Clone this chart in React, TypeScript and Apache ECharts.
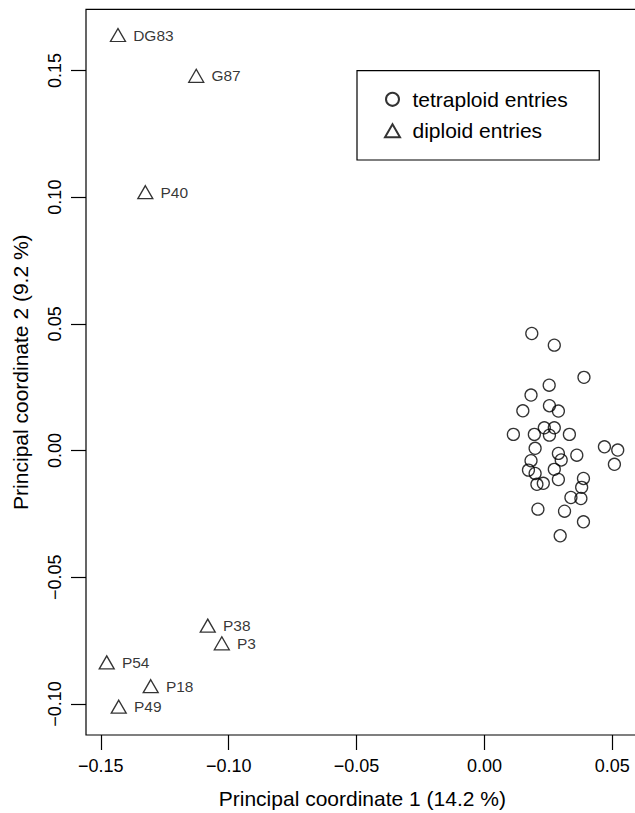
import React, { useEffect, useRef } from "react";
import * as echarts from "echarts";

// Diploid entries (triangles)
const diploidNames = ["DG83", "G87", "P40", "P38", "P3", "P54", "P18", "P49"];
const diploidX = [-0.1433, -0.1127, -0.1326, -0.1082, -0.1027, -0.1477, -0.1305, -0.143];
const diploidY = [0.1631, 0.147, 0.1011, -0.0699, -0.0769, -0.0844, -0.0938, -0.1019];

// Tetraploid entries (circles)
const tetraX = [
  0.0185, 0.0273, 0.0389, 0.0253, 0.0182, 0.015, 0.0254, 0.0289, 0.0113, 0.0195,
  0.0234, 0.0273, 0.0254, 0.0332, 0.0198, 0.0289, 0.0361, 0.0469, 0.0521, 0.0182,
  0.03, 0.0508, 0.0172, 0.0198, 0.0273, 0.0387, 0.0205, 0.023, 0.0289, 0.038,
  0.0338, 0.0377, 0.0209, 0.0313, 0.0387, 0.0296,
];
const tetraY = [
  0.0462, 0.0416, 0.0289, 0.0258, 0.0219, 0.0157, 0.0177, 0.0156, 0.0064, 0.0064,
  0.009, 0.009, 0.0061, 0.0064, 0.0009, -0.0011, -0.0018, 0.0015, 0.0002, -0.004,
  -0.0037, -0.0054, -0.0077, -0.009, -0.0074, -0.011, -0.0133, -0.0129, -0.0114, -0.0145,
  -0.0185, -0.0189, -0.0231, -0.0239, -0.0281, -0.0336,
];

const xTicks = [-0.15, -0.1, -0.05, 0, 0.05];
const yTicks = [-0.1, -0.05, 0, 0.05, 0.1, 0.15];

const xTitle = "Principal coordinate 1 (14.2 %)";
const yTitle = "Principal coordinate 2 (9.2 %)";
const legendNames = ["tetraploid entries", "diploid entries"];

const FONT = "'Liberation Sans', Arial, Helvetica, sans-serif";

const fmt = (v: number) => {
  const s = Number(v).toFixed(2);
  return s.replace("-", "\u2212");
};

export default function App() {
  const ref = useRef<HTMLDivElement>(null);
  useEffect(() => {
    if (!ref.current) return;
    const chart = echarts.init(ref.current, undefined, { renderer: "svg" });
    const tetraData = tetraX.map((x, i) => [x, tetraY[i]]);
    const diploidData = diploidNames.map((n, i) => ({ name: n, value: [diploidX[i], diploidY[i]] }));
    chart.setOption({
      animation: false,
      backgroundColor: "#fff",
      textStyle: { fontFamily: FONT, color: "#000" },
      grid: {
        left: 86,
        top: 9.3,
        right: 6.3,
        bottom: 78,
        show: true,
        borderColor: "#000",
        borderWidth: 1.2,
        backgroundColor: "transparent",
        containLabel: false,
        outerBoundsMode: "none",
      },
      legend: {
        orient: "vertical",
        left: 357,
        top: 70.7,
        padding: [16.6, 31.5, 17.3, 27],
        itemGap: 7.4,
        itemWidth: 15,
        itemHeight: 13,
        borderColor: "#000",
        borderWidth: 1.2,
        backgroundColor: "#fff",
        textStyle: { fontSize: 21, color: "#000", lineHeight: 24, fontFamily: FONT, padding: [0, 0, 0, 7.5] },
        data: legendNames,
      },
      xAxis: {
        type: "value",
        min: -0.1558,
        max: 0.0603,
        name: xTitle,
        nameLocation: "middle",
        nameGap: 53,
        nameTextStyle: { fontSize: 21, color: "#000", fontFamily: FONT },
        axisLine: { show: false, onZero: false },
        splitLine: { show: false },
        axisTick: {
          show: true,
          inside: false,
          length: 15,
          customValues: xTicks,
          lineStyle: { color: "#000", width: 1.2 },
        },
        axisLabel: {
          show: true,
          customValues: xTicks,
          margin: 22,
          fontSize: 18,
          color: "#000",
          fontFamily: FONT,
          formatter: (v: number) => fmt(v),
        },
      },
      yAxis: {
        type: "value",
        min: -0.1122,
        max: 0.1741,
        name: yTitle,
        nameLocation: "middle",
        nameGap: 55,
        nameRotate: 90,
        nameTextStyle: { fontSize: 21, color: "#000", fontFamily: FONT },
        axisLine: { show: false, onZero: false },
        splitLine: { show: false },
        axisTick: {
          show: true,
          inside: false,
          length: 15,
          customValues: yTicks,
          lineStyle: { color: "#000", width: 1.2 },
        },
        axisLabel: {
          show: true,
          customValues: yTicks,
          rotate: 90,
          margin: 22,
          fontSize: 18,
          color: "#000",
          fontFamily: FONT,
          formatter: (v: number) => fmt(v),
        },
      },
      series: [
        {
          name: legendNames[0],
          type: "scatter",
          symbol: "circle",
          symbolSize: 12,
          itemStyle: { color: "rgba(0,0,0,0)", borderColor: "#000", borderWidth: 1.3 },
          data: tetraData,
        },
        {
          name: legendNames[1],
          type: "scatter",
          symbol: "triangle",
          symbolSize: [15, 13],
          symbolOffset: [0, -2.17],
          itemStyle: { color: "rgba(0,0,0,0)", borderColor: "#000", borderWidth: 1.3 },
          label: {
            show: true,
            position: "right",
            distance: 7,
            formatter: (p: any) => p.name,
            fontSize: 15.5,
            color: "#000",
            fontFamily: FONT,
          },
          data: diploidData,
        },
      ],
    });
    return () => chart.dispose();
  }, []);
  return (
    <div style={{ position: "absolute", left: 0, top: 0, width: 635, height: 813, overflow: "hidden", background: "#fff" }}>
      <div ref={ref} style={{ width: 645, height: 813 }} />
    </div>
  );
}
